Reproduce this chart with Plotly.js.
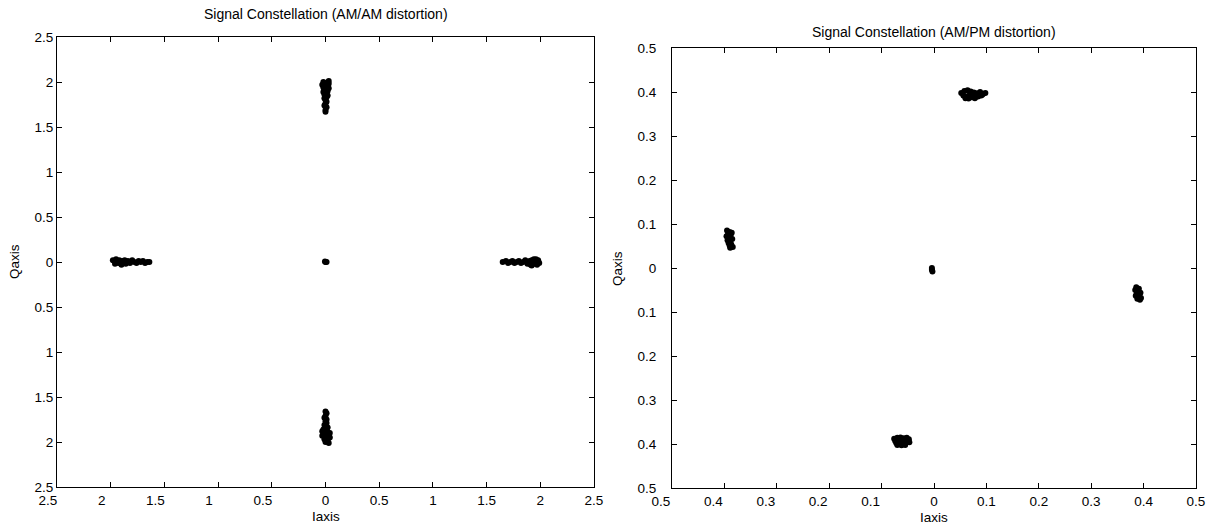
<!DOCTYPE html>
<html>
<head>
<meta charset="utf-8">
<script src="https://cdn.plot.ly/plotly-3.0.1.min.js"></script>
<style>
  html, body { margin: 0; padding: 0; background: #fff; }
  #chart { width: 1213px; height: 525px; }
</style>
</head>
<body>
<div id="chart"></div>
<script>
// ---- AM/AM distortion constellation (I, Q samples per symbol cluster) ----
const amamTopI = [0.03,-0.02,0.01,0.03,-0.03,0.02,0.00,-0.02,0.03,0.01,-0.01,0.02,-0.02,0.01,0.00,-0.01,0.02,0.01,-0.01,0.00,0.01,0.00,-0.01,0.01,0.00,0.00];
const amamTopQ = [2.01,2.00,1.99,1.98,1.97,1.96,1.95,1.94,1.93,1.92,1.91,1.90,1.89,1.88,1.87,1.86,1.85,1.83,1.82,1.80,1.78,1.76,1.74,1.72,1.69,1.67];

const amamBottomI = [0.00,0.01,0.00,-0.01,0.01,0.00,0.01,-0.01,0.00,0.02,-0.02,0.01,-0.03,0.02,0.04,-0.02,0.03,-0.03,0.01,0.04,-0.01,0.02,0.00,0.03];
const amamBottomQ = [-1.66,-1.68,-1.71,-1.73,-1.75,-1.77,-1.79,-1.81,-1.83,-1.84,-1.86,-1.87,-1.88,-1.89,-1.90,-1.91,-1.92,-1.93,-1.94,-1.95,-1.97,-1.98,-2.00,-2.01];

const amamLeftI = [-1.98,-1.96,-1.95,-1.93,-1.92,-1.90,-1.89,-1.87,-1.86,-1.84,-1.82,-1.80,-1.78,-1.76,-1.74,-1.72,-1.70,-1.68,-1.66,-1.64,-1.94,-1.88,-1.83];
const amamLeftQ = [0.02,-0.02,0.03,-0.01,0.02,-0.03,0.01,0.02,-0.02,0.01,-0.01,0.02,0.00,-0.01,0.01,0.00,0.01,-0.01,0.00,0.00,0.00,0.00,0.00];

const amamRightI = [1.65,1.68,1.70,1.72,1.74,1.76,1.78,1.80,1.82,1.84,1.86,1.88,1.90,1.91,1.92,1.93,1.94,1.95,1.96,1.97,1.98,1.99,1.92,1.96];
const amamRightQ = [0.00,0.01,-0.01,0.00,0.01,-0.01,0.00,0.01,-0.01,0.00,0.02,-0.02,0.01,-0.03,0.02,-0.01,0.03,-0.02,0.01,-0.03,0.02,-0.01,-0.04,0.03];

const amamCenterI = [0.00,0.01,-0.005];
const amamCenterQ = [0.00,0.00,0.005];

// ---- AM/PM distortion constellation ----
const ampmTopI = [0.052,0.058,0.064,0.070,0.076,0.082,0.088,0.094,0.098,0.056,0.062,0.068,0.074,0.080,0.086,0.092,0.060,0.066,0.072,0.078,0.084,0.090];
const ampmTopQ = [0.398,0.402,0.404,0.401,0.399,0.397,0.400,0.396,0.398,0.392,0.390,0.393,0.391,0.389,0.392,0.394,0.386,0.385,0.388,0.386,0.390,0.392];

const ampmLeftI = [-0.395,-0.390,-0.386,-0.393,-0.388,-0.396,-0.391,-0.385,-0.394,-0.389,-0.392,-0.387,-0.390,-0.384,-0.389];
const ampmLeftQ = [0.085,0.082,0.080,0.077,0.075,0.072,0.069,0.066,0.063,0.060,0.057,0.054,0.051,0.048,0.046];

const ampmRightI = [0.386,0.391,0.384,0.389,0.394,0.387,0.392,0.385,0.390,0.395,0.388,0.393,0.389];
const ampmRightQ = [-0.044,-0.047,-0.050,-0.053,-0.056,-0.058,-0.061,-0.063,-0.066,-0.068,-0.070,-0.072,-0.060];

const ampmBottomI = [-0.076,-0.070,-0.064,-0.058,-0.052,-0.048,-0.074,-0.068,-0.062,-0.056,-0.050,-0.072,-0.066,-0.060,-0.054,-0.047,-0.070,-0.062,-0.055];
const ampmBottomQ = [-0.388,-0.386,-0.385,-0.387,-0.386,-0.389,-0.393,-0.392,-0.391,-0.393,-0.392,-0.398,-0.397,-0.399,-0.398,-0.396,-0.402,-0.403,-0.402];

const ampmCenterI = [-0.004,-0.004,-0.003];
const ampmCenterQ = [0.000,-0.004,-0.008];

// ---- tick labels (magnitudes only) ----
const amamTicks = [-2.5,-2,-1.5,-1,-0.5,0,0.5,1,1.5,2,2.5];
const amamTickText = ['2.5','2','1.5','1','0.5','0','0.5','1','1.5','2','2.5'];
const ampmTicks = [-0.5,-0.4,-0.3,-0.2,-0.1,0,0.1,0.2,0.3,0.4,0.5];
const ampmTickText = ['0.5','0.4','0.3','0.2','0.1','0','0.1','0.2','0.3','0.4','0.5'];

// ---- page geometry (pixels) ----
const W = 1213, H = 525;
const M = { l: 30, r: 17, t: 36, b: 37 };
const plotW = W - M.l - M.r, plotH = H - M.t - M.b;
const px = v => (v - M.l) / plotW;          // page x pixel -> paper fraction
const py = v => (H - M.b - v) / plotH;      // page y pixel -> paper fraction

const leftBox  = { x0: 57,  x1: 594,  y0: 37, y1: 487 };
const rightBox = { x0: 672, x1: 1196, y0: 48, y1: 488 };
const LABEL_PAD = 20;   // room on the left for the shifted outermost label

const mk = { color: '#000', size: 6, line: { width: 0 } };
function cluster(xs, ys, xa, ya) {
  return { x: xs, y: ys, xaxis: xa, yaxis: ya, type: 'scatter', mode: 'markers',
           marker: mk, hoverinfo: 'x+y', showlegend: false };
}
// empty trace that makes a label-only axis pair exist
function holder(xa, ya) {
  return { x: [], y: [], xaxis: xa, yaxis: ya, type: 'scatter', mode: 'markers',
           hoverinfo: 'skip', showlegend: false };
}

const data = [
  holder('x3', 'y3'),
  holder('x4', 'y4'),
  cluster(amamTopI, amamTopQ, 'x', 'y'),
  cluster(amamBottomI, amamBottomQ, 'x', 'y'),
  cluster(amamLeftI, amamLeftQ, 'x', 'y'),
  cluster(amamRightI, amamRightQ, 'x', 'y'),
  cluster(amamCenterI, amamCenterQ, 'x', 'y'),
  cluster(ampmTopI, ampmTopQ, 'x2', 'y2'),
  cluster(ampmLeftI, ampmLeftQ, 'x2', 'y2'),
  cluster(ampmRightI, ampmRightQ, 'x2', 'y2'),
  cluster(ampmBottomI, ampmBottomQ, 'x2', 'y2'),
  cluster(ampmCenterI, ampmCenterQ, 'x2', 'y2')
];

const fontFam = 'Liberation Sans, Arial, Helvetica, sans-serif';
const tickFont = { family: fontFam, size: 13.5, color: '#000' };

// framed axis with inward ticks on all four sides
function axis(range, vals, text, domain, anchor, labels, standoff) {
  return {
    range: range, domain: domain, anchor: anchor,
    tickmode: 'array', tickvals: vals, ticktext: text, showticklabels: labels,
    ticklabelstandoff: standoff || 0,
    ticks: 'inside', ticklen: 5, tickwidth: 1, tickcolor: '#000',
    showline: true, linecolor: '#000', linewidth: 1, mirror: 'allticks',
    showgrid: false, zeroline: false, fixedrange: true, tickfont: tickFont
  };
}
// bottom tick labels on their own axis (same scale as the framed axis, but
// starting a little further left); labels left of zero sit a few pixels left
// of their tick.
function labelAxis(range, vals, text, box, anchor, pxShift) {
  const perPx = (range[1] - range[0]) / (box.x1 - box.x0);
  const du = pxShift * perPx;
  return {
    anchor: anchor, side: 'bottom',
    range: [range[0] - LABEL_PAD * perPx, range[1]],
    domain: [px(box.x0 - LABEL_PAD), px(box.x1)],
    tickmode: 'array', tickvals: vals.map(v => v < 0 ? v + du : v), ticktext: text,
    ticklabelstandoff: 3,
    ticks: '', showline: false, showgrid: false, zeroline: false, fixedrange: true,
    tickfont: tickFont
  };
}
// invisible partner axis that only places the label axis vertically
function hiddenY(domain, anchor) {
  return { domain: domain, anchor: anchor, range: [0, 1], showticklabels: false,
           ticks: '', showline: false, showgrid: false, zeroline: false, fixedrange: true };
}

const leftDom = [px(leftBox.x0), px(leftBox.x1)];
const rightDom = [px(rightBox.x0), px(rightBox.x1)];
const leftYDom = [py(leftBox.y1), py(leftBox.y0)];
const rightYDom = [py(rightBox.y1), py(rightBox.y0)];

function label(text, x, y, opts) {
  return Object.assign({ text: text, xref: 'paper', yref: 'paper', x: px(x), y: py(y),
    xanchor: 'center', yanchor: 'middle', showarrow: false, font: { size: 13.5 } }, opts || {});
}

const layout = {
  width: W, height: H, margin: M,
  paper_bgcolor: '#fff', plot_bgcolor: 'rgba(0,0,0,0)',
  font: { family: fontFam, color: '#000' },
  xaxis: axis([-2.5, 2.5], amamTicks, amamTickText, leftDom, 'y', false),
  yaxis: axis([-2.5, 2.5], amamTicks, amamTickText, leftYDom, 'x', true),
  xaxis2: axis([-0.5, 0.5], ampmTicks, ampmTickText, rightDom, 'y2', false),
  yaxis2: axis([-0.5, 0.5], ampmTicks, ampmTickText, rightYDom, 'x2', true, 12),
  xaxis3: labelAxis([-2.5, 2.5], amamTicks, amamTickText, leftBox, 'y3', -9),
  yaxis3: hiddenY(leftYDom, 'x3'),
  xaxis4: labelAxis([-0.5, 0.5], ampmTicks, ampmTickText, rightBox, 'y4', -11),
  yaxis4: hiddenY(rightYDom, 'x4'),
  annotations: [
    label('Signal Constellation (AM/AM distortion)', 325.5, 14, { font: { size: 14 } }),
    label('Signal Constellation (AM/PM distortion)', 934, 32, { font: { size: 14 } }),
    label('Iaxis', 325.5, 516),
    label('Iaxis', 934, 517),
    label('Qaxis', 14, 262, { textangle: -90 }),
    label('Qaxis', 617, 268, { textangle: -90 })
  ]
};

Plotly.newPlot('chart', data, layout, { displayModeBar: false, staticPlot: true });
</script>
</body>
</html>
